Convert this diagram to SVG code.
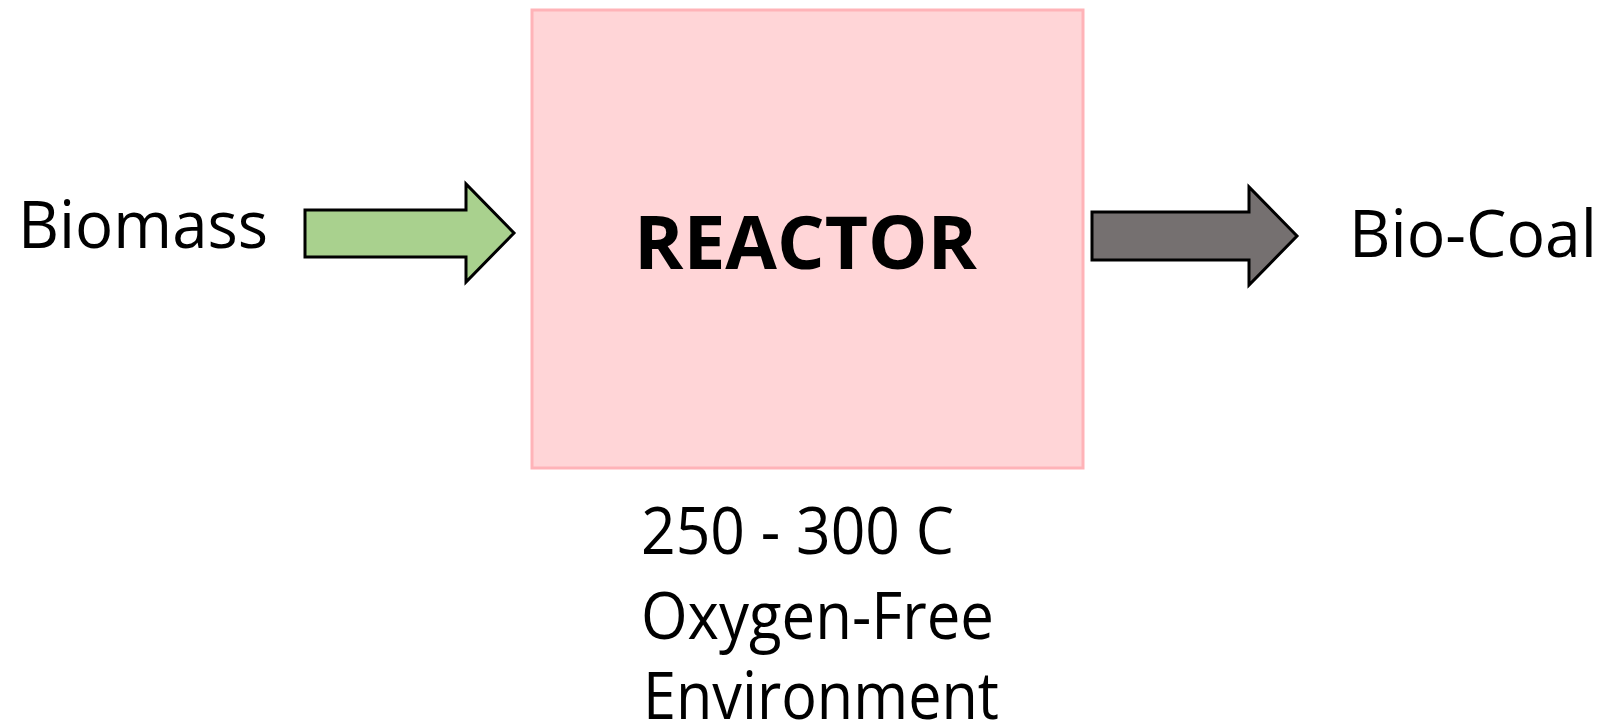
<svg xmlns="http://www.w3.org/2000/svg" width="1608" height="723" viewBox="0 0 1608 723">
<style>
.lbl{font-family:"Open Sans","Liberation Sans",sans-serif;font-size:65px;fill:#000}
.sub{font-family:"Open Sans","Liberation Sans",sans-serif;font-size:65px;fill:#000}
.big{font-family:"Open Sans","Liberation Sans",sans-serif;font-size:74px;font-weight:bold;fill:#000}
.arrow{stroke:#000;stroke-width:3;stroke-linejoin:miter}
</style>
<rect width="1608" height="723" fill="#fff"/>
<g id="reactor">
<rect x="532" y="10" width="551" height="458" fill="#ffd5d7" stroke="#ffb3b8" stroke-width="3"/>
<text class="big" x="634" y="269" textLength="343" lengthAdjust="spacingAndGlyphs">REACTOR</text>
</g>
<g id="biomass">
<text class="lbl" x="18" y="248" textLength="250" lengthAdjust="spacingAndGlyphs">Biomass</text>
</g>
<g id="biocoal">
<text class="lbl" x="1349" y="257" textLength="248" lengthAdjust="spacingAndGlyphs">Bio-Coal</text>
</g>
<g id="conditions">
<text class="sub" x="641" y="554" textLength="313" lengthAdjust="spacingAndGlyphs">250 - 300 C</text>
<text class="sub" x="641" y="639" textLength="353" lengthAdjust="spacingAndGlyphs">Oxygen-Free</text>
<text class="sub" x="643" y="719" textLength="356" lengthAdjust="spacingAndGlyphs">Environment</text>
</g>
<g id="connectors">
<polygon class="arrow" fill="#a9d18e" points="305,210 466,210 466,184 514,233 466,282 466,257 305,257"/>
<polygon class="arrow" fill="#757070" points="1092,212 1249,212 1249,187 1297,236 1249,285 1249,260 1092,260"/>
</g>
</svg>
